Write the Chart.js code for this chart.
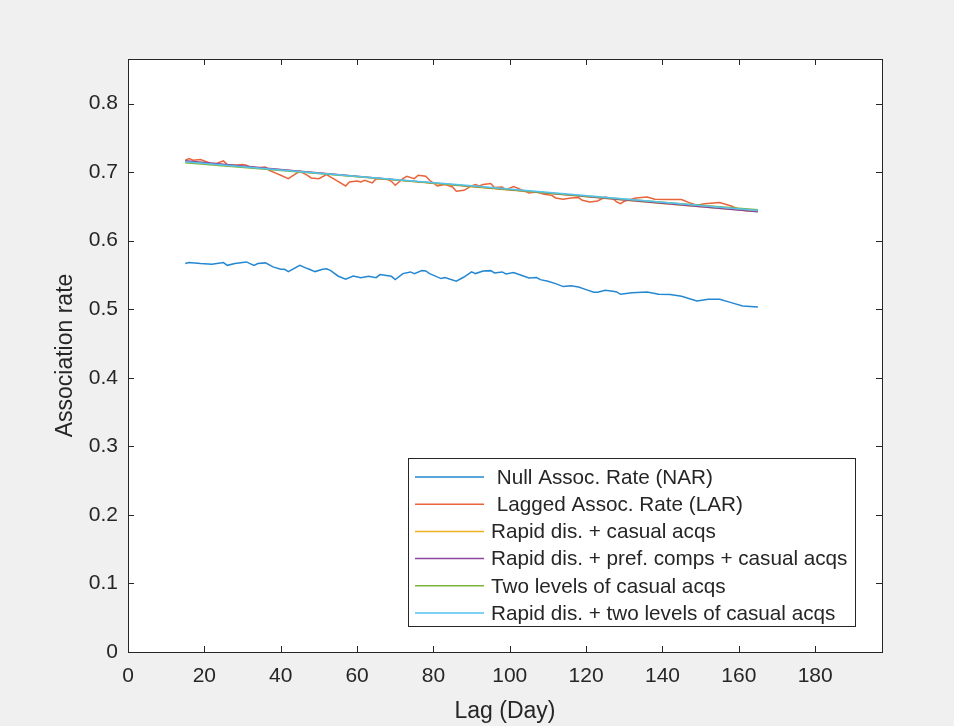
<!DOCTYPE html>
<html>
<head>
<meta charset="utf-8">
<script src="https://cdn.jsdelivr.net/npm/chart.js@4.4.1/dist/chart.umd.min.js"></script>
<style>
    body { margin: 0; background: #f0f0f0; }
    #caixa { width: 954px; height: 726px; }
</style>
</head>
<body>
<div id="caixa"><canvas id="grafico" width="954" height="726"></canvas></div>
<script>
// dados
const narDias = [15, 16, 19, 22, 25, 26, 28, 31, 33, 34, 36, 38, 40, 41, 42, 45, 47, 49, 51, 52, 53, 55, 57, 59, 61, 63, 65, 66, 69, 70, 72, 74, 75, 77, 78, 79, 82, 83, 86, 88, 90, 91, 93, 95, 96, 98, 99, 101, 103, 105, 107, 108, 110, 112, 114, 116, 118, 120, 122, 123, 125, 127, 128, 129, 132, 136, 139, 142, 145, 149, 152, 155, 158, 161, 165];
const narValores = [0.5666, 0.568, 0.5666, 0.5656, 0.568, 0.564, 0.5666, 0.569, 0.564, 0.5666, 0.5676, 0.5617, 0.5583, 0.5583, 0.5549, 0.564, 0.5593, 0.5549, 0.5583, 0.559, 0.5568, 0.5485, 0.5437, 0.5485, 0.5461, 0.548, 0.5461, 0.5505, 0.548, 0.5432, 0.552, 0.5544, 0.552, 0.5563, 0.5558, 0.552, 0.5447, 0.5461, 0.5408, 0.547, 0.5544, 0.552, 0.5558, 0.5563, 0.5529, 0.5544, 0.5515, 0.5534, 0.5495, 0.5456, 0.5461, 0.5432, 0.5408, 0.5374, 0.533, 0.5344, 0.5325, 0.5286, 0.5247, 0.5247, 0.5276, 0.5262, 0.5252, 0.5218, 0.5242, 0.5252, 0.5218, 0.5213, 0.5189, 0.5121, 0.5145, 0.5145, 0.5096, 0.5047, 0.5033];

const larDias = [15, 16, 17, 19, 20, 22, 23, 25, 26, 28, 30, 31, 32, 34, 36, 37, 39, 40, 42, 44, 45, 47, 48, 50, 52, 53, 55, 57, 58, 60, 61, 62, 64, 65, 68, 69, 70, 72, 73, 75, 76, 78, 79, 81, 83, 85, 86, 88, 90, 91, 92, 93, 95, 96, 98, 99, 101, 103, 105, 107, 109, 111, 112, 114, 116, 118, 119, 121, 123, 125, 127, 128, 129, 130, 133, 136, 138, 142, 145, 147, 149, 151, 155, 158, 160, 162, 165];
const larValores = [0.7173, 0.7197, 0.7173, 0.7183, 0.7163, 0.7124, 0.7124, 0.7163, 0.711, 0.710, 0.711, 0.710, 0.7075, 0.7065, 0.7075, 0.7027, 0.6978, 0.6954, 0.6905, 0.6978, 0.7012, 0.6954, 0.6915, 0.6905, 0.6964, 0.693, 0.6866, 0.6798, 0.6857, 0.6871, 0.6857, 0.6881, 0.6842, 0.6905, 0.6891, 0.6866, 0.6808, 0.6905, 0.6939, 0.6905, 0.6954, 0.6939, 0.6881, 0.6798, 0.6818, 0.6784, 0.6721, 0.6735, 0.6798, 0.6818, 0.6798, 0.6818, 0.6833, 0.6774, 0.6784, 0.6745, 0.6789, 0.6745, 0.6696, 0.671, 0.6676, 0.6662, 0.6623, 0.6604, 0.6623, 0.6628, 0.6589, 0.6565, 0.6579, 0.6637, 0.6613, 0.6565, 0.654, 0.6575, 0.6623, 0.6637, 0.6604, 0.6599, 0.6599, 0.6555, 0.6516, 0.654, 0.6555, 0.6506, 0.6458, 0.6438, 0.643];

const modeloDias = [15, 40, 65, 90, 115, 140, 165];
const rapidCasual = [0.7155, 0.7033, 0.6910, 0.6788, 0.6665, 0.6543, 0.6425];
const rapidPref = [0.7165, 0.7040, 0.6915, 0.6792, 0.6668, 0.6544, 0.6420];
const duasCasual = [0.7135, 0.7025, 0.6910, 0.6795, 0.6675, 0.6560, 0.6450];
const rapidDuas = [0.7150, 0.7030, 0.6915, 0.6800, 0.6682, 0.6562, 0.6440];

const nomes = [' Null Assoc. Rate (NAR)', ' Lagged Assoc. Rate (LAR)', 'Rapid dis. + casual acqs', 'Rapid dis. + pref. comps + casual acqs', 'Two levels of casual acqs', 'Rapid dis. + two levels of casual acqs'];
const cores = ['#2487d2', '#e8643a', '#EDB120', '#8a45a0', '#7fb43c', '#55c2ee'];

const xTicks = [0, 20, 40, 60, 80, 100, 120, 140, 160, 180];
const yTicks = [0, 0.1, 0.2, 0.3, 0.4, 0.5, 0.6, 0.7, 0.8];
const yTickLabels = ['0', '0.1', '0.2', '0.3', '0.4', '0.5', '0.6', '0.7', '0.8'];

const corTexto = '#262626';
const fonte = "'Liberation Sans', Arial, sans-serif";

function pontos(dias, valores) {
    let lista = [];
    for (let i = 0; i < dias.length; i++) {
        lista.push({ x: dias[i], y: valores[i] });
    }
    return lista;
}

const series = [
    pontos(narDias, narValores),
    pontos(larDias, larValores),
    pontos(modeloDias, rapidCasual),
    pontos(modeloDias, rapidPref),
    pontos(modeloDias, duasCasual),
    pontos(modeloDias, rapidDuas)
];

let datasets = [];
for (let i = 0; i < series.length; i++) {
    datasets.push({
        label: nomes[i],
        data: series[i],
        borderColor: cores[i],
        borderWidth: 1.5,
        pointRadius: 0,
        tension: 0,
        fill: false,
        order: series.length - i
    });
}

// fundo cinza + area branca
const fundo = {
    id: 'fundo',
    beforeDraw(chart) {
        const ctx = chart.ctx;
        const a = chart.chartArea;
        ctx.save();
        ctx.fillStyle = '#f0f0f0';
        ctx.fillRect(0, 0, chart.width, chart.height);
        ctx.fillStyle = '#ffffff';
        ctx.fillRect(a.left, a.top, a.right - a.left, a.bottom - a.top);
        ctx.restore();
    }
};

// caixa, ticks para dentro e legenda no estilo MATLAB
const moldura = {
    id: 'moldura',
    afterDraw(chart) {
        const ctx = chart.ctx;
        const a = chart.chartArea;
        const sx = chart.scales.x;
        const sy = chart.scales.y;
        const tam = 6;
        ctx.save();
        ctx.strokeStyle = corTexto;
        ctx.lineWidth = 1;
        ctx.beginPath();
        for (let v of xTicks) {
            let px = Math.round(sx.getPixelForValue(v)) + 0.5;
            ctx.moveTo(px, a.bottom);
            ctx.lineTo(px, a.bottom - tam);
            ctx.moveTo(px, a.top);
            ctx.lineTo(px, a.top + tam);
        }
        for (let v of yTicks) {
            let py = Math.round(sy.getPixelForValue(v)) + 0.5;
            ctx.moveTo(a.left, py);
            ctx.lineTo(a.left + tam, py);
            ctx.moveTo(a.right, py);
            ctx.lineTo(a.right - tam, py);
        }
        ctx.stroke();
        ctx.strokeRect(Math.round(a.left) + 0.5, Math.round(a.top) + 0.5,
            Math.round(a.right - a.left), Math.round(a.bottom - a.top));

        // legenda
        const esq = a.right - 474;
        const topo = a.bottom - 194;
        const larg = 447;
        const alt = 168;
        ctx.fillStyle = '#ffffff';
        ctx.fillRect(esq, topo, larg, alt);
        ctx.strokeRect(Math.round(esq) + 0.5, Math.round(topo) + 0.5, larg, alt);
        ctx.font = '20.7px ' + fonte;
        ctx.textBaseline = 'middle';
        ctx.textAlign = 'left';
        for (let i = 0; i < nomes.length; i++) {
            let yy = topo + 19 + i * 27.2;
            ctx.strokeStyle = cores[i];
            ctx.lineWidth = 1.5;
            ctx.beginPath();
            ctx.moveTo(esq + 7, yy);
            ctx.lineTo(esq + 76, yy);
            ctx.stroke();
            ctx.fillStyle = corTexto;
            ctx.fillText(nomes[i], esq + 83, yy + 1);
        }
        ctx.restore();
    }
};

Chart.defaults.font.family = fonte;
Chart.defaults.color = corTexto;

const grafico = new Chart(document.getElementById('grafico'), {
    type: 'line',
    data: { datasets: datasets },
    options: {
        responsive: false,
        animation: false,
        layout: { padding: { left: 0, right: 72, top: 59, bottom: 0 } },
        plugins: {
            legend: { display: false },
            tooltip: { enabled: false }
        },
        scales: {
            x: {
                type: 'linear',
                min: 0,
                max: 197.5,
                afterBuildTicks: function (s) { s.ticks = xTicks.map(v => ({ value: v })); },
                afterFit: function (s) { s.height = 74; },
                grid: { display: false, drawTicks: false },
                border: { display: false },
                ticks: { padding: 12, font: { size: 21 }, color: corTexto, maxRotation: 0,
                    callback: function (v) { return String(v); } },
                title: { display: true, text: 'Lag (Day)', font: { size: 23 }, color: corTexto, padding: { top: 0, bottom: 1 } }
            },
            y: {
                type: 'linear',
                min: 0,
                max: 0.865,
                afterBuildTicks: function (s) { s.ticks = yTicks.map(v => ({ value: v })); },
                afterFit: function (s) { s.width = 128; },
                grid: { display: false, drawTicks: false },
                border: { display: false },
                ticks: { padding: 10, font: { size: 21 }, color: corTexto,
                    callback: function (v, i) { return yTickLabels[i]; } },
                title: { display: true, text: 'Association rate', font: { size: 23 }, color: corTexto, padding: { top: 52, bottom: 0 } }
            }
        }
    },
    plugins: [fundo, moldura]
});
</script>
</body>
</html>
